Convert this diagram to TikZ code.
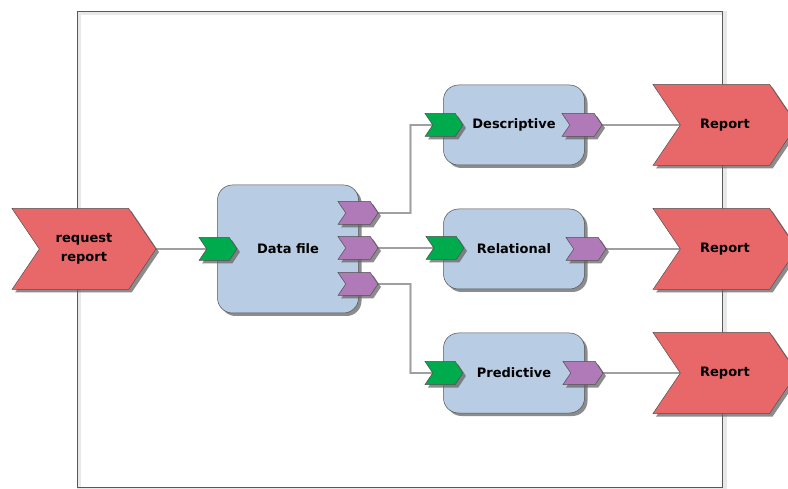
\documentclass[tikz,border=0pt]{standalone}
\usepackage{fontspec}
\setmainfont{DejaVu Sans}
\usepackage{tikz}
\usetikzlibrary{shapes.symbols,shadows,backgrounds,calc}
\definecolor{reqred}{HTML}{E8686A}
\definecolor{procblue}{HTML}{B8CCE4}
\definecolor{portgreen}{HTML}{00AB4E}
\definecolor{portpurple}{HTML}{B07AB8}
\definecolor{edgegray}{HTML}{505050}
\tikzset{
  shade/.style={drop shadow={shadow xshift=3pt, shadow yshift=-3pt, fill=gray!80!black, opacity=0.75}},
  chev/.style={shape=signal, signal to=east, signal from=west, signal pointer angle=112,
    draw=edgegray, line width=0.5pt, inner sep=0pt, shade},
  evt/.style={chev, fill=reqred, minimum width=144pt, minimum height=81pt,
    align=center, font=\fontsize{13}{19}\selectfont\bfseries},
  inport/.style={chev, fill=portgreen, minimum width=38pt, minimum height=23pt},
  outport/.style={chev, fill=portpurple, minimum width=40pt, minimum height=23pt},
  proc/.style={draw=edgegray, line width=0.5pt, fill=procblue, rounded corners=15pt,
    minimum width=141pt, minimum height=80pt, font=\fontsize{13}{15}\selectfont\bfseries, shade},
  link/.style={draw=gray!40, double=gray!75, double distance=1.4pt, line width=0.6pt}
}
\begin{document}
\begin{tikzpicture}[x=1pt,y=-1pt]
\useasboundingbox (0,0) rectangle (788,489);
\clip (0,0) rectangle (788,489);

% Request
\node[evt] (req) at (84,249) {request\\report};

% Data file with its ports
\node[proc, minimum height=128pt] (data) at (288,249) {Data file};
\node[inport] (din) at (218,249) {};
\node[outport] (dout1) at (358,213) {};
\node[outport] (dout2) at (358,248) {};
\node[outport] (dout3) at (358,284) {};

% Analyses
\node[proc] (desc) at (514,125) {Descriptive};
\node[proc] (rel)  at (514,249) {Relational};
\node[proc] (pred) at (514,373) {Predictive};
\node[inport]  (in1)  at (444,125) {};
\node[inport]  (in2)  at (445,248) {};
\node[inport]  (in3)  at (444,373) {};
\node[outport] (out1) at (582,125) {};
\node[outport] (out2) at (586,249) {};
\node[outport] (out3) at (583,373) {};

% Reports
\node[evt] (rep1) at (725,125) {Report};
\node[evt] (rep2) at (725,249) {Report};
\node[evt] (rep3) at (725,373) {Report};

\begin{scope}[on background layer]
  % Frame
  \fill[gray!18] (77,11) rectangle (727,489);
  \fill[white] (81,15) rectangle (722,487);
  \draw[gray!70!black, line width=0.6pt] (77,11) rectangle (722,487);
  % Links
  \draw[link] (req.east) -- (din.center);
  \draw[link] (dout1.center) -- ([xshift=32pt]dout1.east) |- (in1.center);
  \draw[link] (dout2.center) -- (in2.center);
  \draw[link] (dout3.center) -- ([xshift=32pt]dout3.east) |- (in3.center);
  \draw[link] (out1.center) -- (rep1.center);
  \draw[link] (out2.center) -- (rep2.center);
  \draw[link] (out3.center) -- (rep3.center);
\end{scope}
\end{tikzpicture}
\end{document}
